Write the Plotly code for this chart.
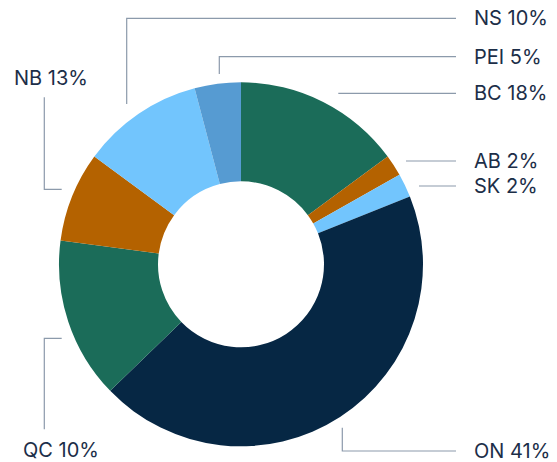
import plotly.graph_objects as go

# ---- data ----
provinces = ["BC", "AB", "SK", "ON", "QC", "NB", "NS", "PEI"]
shares = [14.9, 1.9, 2.1, 43.8, 14.3, 8.0, 10.8, 4.1]
label_texts = ["BC 18%", "AB 2%", "SK 2%", "ON 41%", "QC 10%", "NB 13%", "NS 10%", "PEI 5%"]
colors = ["#1b6c59", "#b46200", "#72c5fd", "#062744", "#1b6c59", "#b46200", "#72c5fd", "#569bd2"]

W, H = 557, 462

def px(x, y):
    return x / W, 1 - y / H

# leader-line layout (pixel positions) and label anchors
leaders = {
    "NS 10%": ([(126.7, 104), (126.7, 18.3), (456, 18.3)], (471.5, 18.3), "left"),
    "PEI 5%": ([(219.3, 74), (219.3, 56.7), (456, 56.7)], (471.5, 56.7), "left"),
    "BC 18%": ([(338.3, 93.3), (456, 93.3)], (471.5, 93.3), "left"),
    "AB 2%": ([(406, 161), (456, 161)], (471.5, 161), "left"),
    "SK 2%": ([(419, 186), (456, 186)], (471.5, 186), "left"),
    "ON 41%": ([(342.3, 427.7), (342.3, 451), (456, 451)], (471.5, 451), "left"),
    "QC 10%": ([(61.7, 338.3), (44.3, 338.3), (44.3, 429.3)], (20.5, 450), "left"),
    "NB 13%": ([(61.7, 189.3), (44.3, 189.3), (44.3, 97.3)], (11.5, 78.3), "left"),
}

cx, cy, R = 241, 264.3, 182
fig = go.Figure(go.Pie(
    labels=provinces,
    values=shares,
    sort=False,
    direction="clockwise",
    rotation=0,
    hole=0.456,
    textinfo="none",
    hoverinfo="label+percent",
    marker=dict(colors=colors, line=dict(width=0)),
    domain=dict(x=[(cx - R) / W, (cx + R) / W], y=[1 - (cy + R) / H, 1 - (cy - R) / H]),
    showlegend=False,
))

shapes = []
annotations = []
for txt in label_texts:
    pts, (lx, ly), anchor = leaders[txt]
    path = "M " + " L ".join(f"{px(x, y)[0]},{px(x, y)[1]}" for x, y in pts)
    shapes.append(dict(type="path", xref="paper", yref="paper", path=path,
                       line=dict(color="#8c9aab", width=1.2)))
    ax, ay = px(lx, ly)
    annotations.append(dict(x=ax, y=ay, xref="paper", yref="paper", text=txt,
                            showarrow=False, xanchor=anchor, yanchor="middle",
                            font=dict(family="Inter", size=20, color="#1c2e48")))

fig.update_layout(
    width=W, height=H,
    margin=dict(l=0, r=0, t=0, b=0),
    paper_bgcolor="white",
    plot_bgcolor="white",
    shapes=shapes,
    annotations=annotations,
)

fig.write_html("out.html",
               config={"displayModeBar": False},
               post_script="document.body.style.margin='0';document.body.style.padding='0';")
